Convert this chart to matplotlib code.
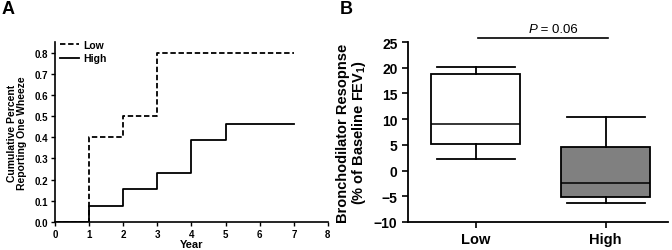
import numpy as np
import matplotlib.pyplot as plt

plt.rcParams['font.family'] = ['Liberation Sans', 'DejaVu Sans']
plt.rcParams['font.weight'] = 'bold'
plt.rcParams['mathtext.fontset'] = 'custom'
plt.rcParams['mathtext.rm'] = 'Liberation Sans:bold'
plt.rcParams['mathtext.bf'] = 'Liberation Sans:bold'

# Panel A: cumulative step curves
years = [0, 1, 2, 3, 4, 5, 7]
low_cum = [0, 0.4, 0.5, 0.8, 0.8, 0.8, 0.8]
high_cum = [0, 0.077, 0.154, 0.231, 0.385, 0.462, 0.462]

# Panel B: box plot stats
groups = ['Low', 'High']
whislo = [2.3, -6.3]
q1 = [5.2, -5.1]
med = [9.0, -2.4]
q3 = [18.8, 4.6]
whishi = [20.1, 10.4]
box_colors = ['white', '#808080']
p_text = '0.06'

fig = plt.figure(figsize=(6.72, 2.51), dpi=100)

# ---- A ----
ax1 = fig.add_axes([0.0818, 0.1116, 0.4062, 0.717])
ax1.plot(years, low_cum, drawstyle='steps-post', color='black', lw=1.3,
         ls=(0, (3, 1.5)), label='Low')
ax1.plot(years, high_cum, drawstyle='steps-post', color='black', lw=1.3,
         label='High')
ax1.set_xlim(0, 8)
ax1.set_ylim(0, 0.85)
ax1.set_xticks(range(0, 9))
ax1.set_yticks(np.arange(0, 0.81, 0.1))
ax1.yaxis.set_major_formatter(plt.FormatStrFormatter('%.1f'))
ax1.tick_params(labelsize=7, width=1, length=3, pad=2)
for s in ['top', 'right']:
    ax1.spines[s].set_visible(False)
for s in ['left', 'bottom']:
    ax1.spines[s].set_linewidth(1.2)
ax1.set_xlabel('Year', fontsize=8, fontweight='bold', labelpad=0)
ax1.set_ylabel('Cumulative Percent\nReporting One Wheeze', fontsize=7.5,
               fontweight='bold', labelpad=5, linespacing=1.0)
leg = ax1.legend(loc='upper left', frameon=False, fontsize=7.5,
                 handlelength=1.8, handletextpad=0.4, borderaxespad=0.1,
                 labelspacing=0.3, bbox_to_anchor=(0.0, 1.04))
fig.text(0.003, 0.995, 'A', fontsize=13, fontweight='bold', va='top')

# ---- B ----
ax2 = fig.add_axes([0.607, 0.1116, 0.387, 0.717])
stats = []
for i, g in enumerate(groups):
    stats.append(dict(label=g, whislo=whislo[i], q1=q1[i], med=med[i],
                      q3=q3[i], whishi=whishi[i], fliers=[]))
bp = ax2.bxp(stats, positions=[1, 2], widths=0.68, patch_artist=True,
             showfliers=False,
             boxprops=dict(linewidth=1.3, edgecolor='black'),
             medianprops=dict(color='black', linewidth=1.1),
             whiskerprops=dict(linewidth=1.3, color='black'),
             capprops=dict(linewidth=1.3, color='black'))
for patch, c in zip(bp['boxes'], box_colors):
    patch.set_facecolor(c)
for cap in bp['caps']:
    x0, x1 = cap.get_xdata()
    mid = (x0 + x1) / 2
    cap.set_xdata([mid - 0.3, mid + 0.3])
ax2.set_xlim(0.48, 2.48)
ax2.set_ylim(-10, 25)
ax2.set_yticks(range(-10, 26, 5))
ax2.tick_params(axis='y', labelsize=10, width=1.2, length=4)
ax2.tick_params(axis='x', labelsize=10.5, width=1.2, length=4)
for s in ['top', 'right']:
    ax2.spines[s].set_visible(False)
for s in ['left', 'bottom']:
    ax2.spines[s].set_linewidth(1.3)
ax2.set_ylabel('Bronchodilator Resopnse\n(% of Baseline FEV$_{1}$)',
               fontsize=10.5, fontweight='bold', labelpad=4, linespacing=1.05)
ax2.plot([1.02, 2.02], [25.7, 25.7], color='black', lw=1.2, clip_on=False)
ax2.text(1.475, 26.3, 'P', ha='right', va='bottom', fontsize=9.5,
         fontweight='normal', fontstyle='italic')
ax2.text(1.475, 26.3, ' = ' + p_text, ha='left', va='bottom',
         fontsize=9.5, fontweight='normal')
fig.text(0.506, 0.995, 'B', fontsize=13, fontweight='bold', va='top')

fig.savefig('out.png', dpi=100)
